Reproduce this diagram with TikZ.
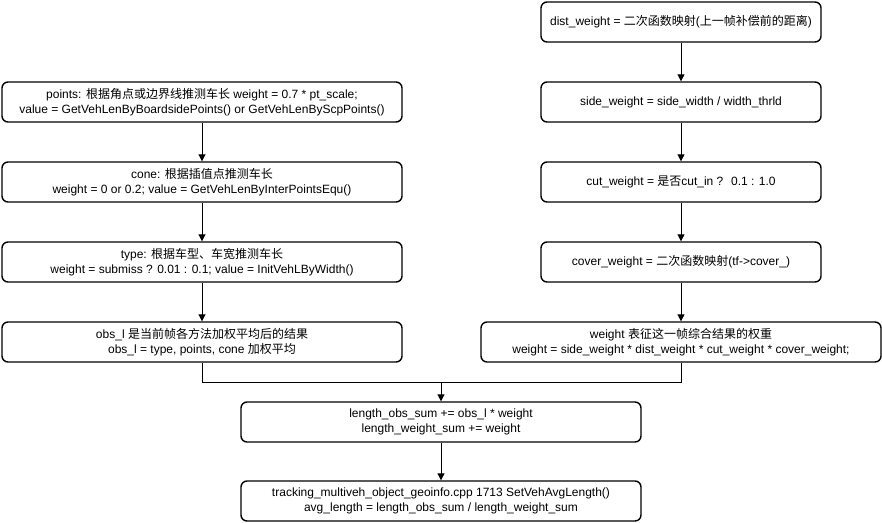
\documentclass[tikz,border=0pt]{standalone}
\usepackage{fontspec}
\setmainfont{Liberation Sans}
\newfontfamily\cjk{Noto Sans CJK SC}
\usetikzlibrary{arrows.meta}

\begin{document}
\begin{tikzpicture}[x=1pt, y=-1pt,
    flowbox/.style={draw, line width=1.4pt, rounded corners=6pt, minimum width=400pt,
      minimum height=40pt, align=center, inner sep=0pt, font=\fontsize{12}{15.5}\selectfont},
    flow/.style={-{Triangle[length=7pt, width=7pt]}, line width=1pt}]
    \useasboundingbox (0,0) rectangle (882,522);
    % left column
    \node[flowbox] (points) at (202,102) {points: {\cjk 根据角点或边界线推测车长} weight = 0.7 * pt\_scale;\\value = GetVehLenByBoardsidePoints() or GetVehLenByScpPoints()};
    \node[flowbox] (cone) at (202,182) {cone: {\cjk 根据插值点推测车长}\\weight = 0 or 0.2; value = GetVehLenByInterPointsEqu()};
    \node[flowbox] (type) at (202,262) {type: {\cjk 根据车型、车宽推测车长}\\weight = submiss ? 0.01 : 0.1; value = InitVehLByWidth()};
    \node[flowbox] (obsl) at (202,342) {obs\_l {\cjk 是当前帧各方法加权平均后的结果}\\obs\_l = type, points, cone {\cjk 加权平均}};
    % right column
    \node[flowbox, minimum width=280pt] (dist) at (681,22) {dist\_weight = {\cjk 二次函数映射}({\cjk 上一帧补偿前的距离})};
    \node[flowbox, minimum width=280pt] (side) at (681,102) {side\_weight = side\_width / width\_thrld};
    \node[flowbox, minimum width=280pt] (cut) at (681,182) {cut\_weight = {\cjk 是否}cut\_in ? \ 0.1 : 1.0};
    \node[flowbox, minimum width=280pt] (cover) at (681,262) {cover\_weight = {\cjk 二次函数映射}(tf->cover\_)};
    \node[flowbox] (weight) at (681,342) {weight {\cjk 表征这一帧综合结果的权重}\\weight = side\_weight * dist\_weight * cut\_weight * cover\_weight;};
    % bottom
    \node[flowbox] (sum) at (441,422) {length\_obs\_sum += obs\_l * weight\\length\_weight\_sum += weight};
    \node[flowbox] (avg) at (441,501) {tracking\_multiveh\_object\_geoinfo.cpp 1713 SetVehAvgLength()\\avg\_length = length\_obs\_sum / length\_weight\_sum};

    \draw[flow] (points) -- (cone);
    \draw[flow] (cone) -- (type);
    \draw[flow] (type) -- (obsl);
    \draw[flow] (dist) -- (side);
    \draw[flow] (side) -- (cut);
    \draw[flow] (cut) -- (cover);
    \draw[flow] (cover) -- (weight);
    \coordinate (join) at (441,382);
    \draw[line width=1pt] (obsl.south) |- (join);
    \draw[line width=1pt] (weight.south) |- (join);
    \draw[flow] (join) -- (sum);
    \draw[flow] (sum) -- (avg);
\end{tikzpicture}
\end{document}
